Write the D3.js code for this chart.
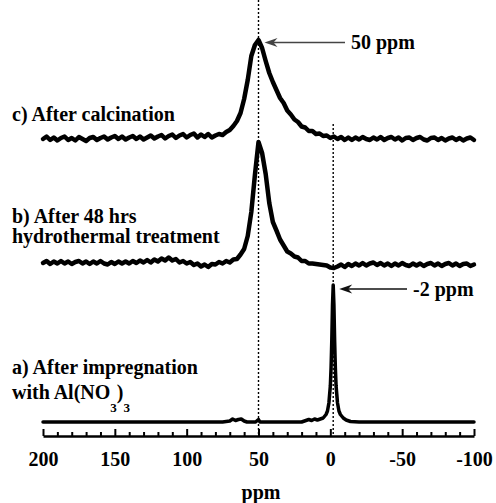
<!DOCTYPE html>
<html><head><meta charset="utf-8">
<script src="https://cdn.jsdelivr.net/npm/d3@7"></script>
<style>
html,body{margin:0;padding:0;background:#fff;}
svg{display:block;}
text{font-family:"Liberation Serif","Times New Roman",serif;font-weight:bold;fill:#000;}
</style></head>
<body>
<script>
// Chemical shift grid (ppm) for traces b and c
const ppm = [200,197.5,195,192.5,190,187.5,185,182.5,180,177.5,175,172.5,170,167.5,165,162.5,160,157.5,155,152.5,
150,147.5,145,142.5,140,137.5,135,132.5,130,127.5,125,122.5,120,117.5,115,112.5,110,107.5,105,102.5,
100,97.5,95,92.5,90,87.5,85,82.5,80,77.5,75,72.5,70,67.5,65,62.5,60,57.5,55,52.5,
50,47.5,45,42.5,40,37.5,35,32.5,30,27.5,25,22.5,20,17.5,15,12.5,10,7.5,5,2.5,
0,-2.5,-5,-7.5,-10,-12.5,-15,-17.5,-20,-22.5,-25,-27.5,-30,-32.5,-35,-37.5,-40,-42.5,-45,-47.5,
-50,-52.5,-55,-57.5,-60,-62.5,-65,-67.5,-70,-72.5,-75,-77.5,-80,-82.5,-85,-87.5,-90,-92.5,-95,-97.5,-100];

// c) After calcination
const calcination = [0,2.5,-1,1.5,-1.5,1,2.5,-1,1,-1.5,2,0,-2,1,2,-1,1,2.5,-0.5,1.5,
3,0,2.5,-0.5,1.5,3,0,2.5,-0.5,1.5,3.5,0.5,2.5,4,0.5,3,4.5,1,3.5,5,
1.5,4,5.5,1.5,4.5,2,5,1.5,
3.5,5,4,7,9,13,18,26,40,59,83,94,99,91,78,66,57,49,41,36,
28.5,24.5,19.5,17,12.5,11.5,8,8,5,5.5,3,3.5,1,2.5,
0,2,-1,1.5,-1,1.5,-0.5,2,0,-1,1.5,-0.5,2,-1,1,2,-0.5,1.5,-1.5,1,
1.5,-1,1,2,-0.5,-1.5,1,1.5,-1,1,-1.5,0.5,1.5,-1,1,-1.5,0.5,1.5,-1];

// b) After 48 hrs hydrothermal treatment
const hydrothermal = [2,4,1,3.5,1.5,4,1.5,3.5,1,3,4,1.5,3.5,1,3.5,1.5,4,1.5,0.5,3,
1,3.5,1.5,3.5,1.5,4,2,4.5,2.5,5,2.5,5.5,3.5,6.5,4.5,7.5,4.5,6,2.5,4,
1.5,3,0,1.5,-1.5,0.5,-2,1,
0.5,3,1.5,4,2.5,5.5,6,10.5,16,29,53,90,123,112,91,62,43,34.5,25.5,19.5,
13.5,11.5,8.5,7.5,4,4,1.5,1.5,1,0.5,0,-0.5,-2.5,-3,
-1.5,0.5,-2,1,-1,1.5,-0.5,2,-0.5,1.5,2.5,0,2,-0.5,1.5,-1,1.5,-0.5,2,0,
-1,1.5,-0.5,1.5,-1,1,2,-0.5,1.5,-1,1,2,-0.5,1.5,-1,1,1.5,-1,0.5];

// a) After impregnation with Al(NO3)3
const ppmA = [200,150,100,75,70,68,66,64,62,60,58,52,50,49,40,20,17,15,13,11,9,7,5,3,2,1,0,
-0.5,-1,-1.5,-2,-2.5,-3,-3.5,-4,-5,-6,-7,-9,-11,-14,-20,-50,-100];
const impregnation = [0,0,0,0,1,3,1.5,2.5,3,1,0,0,2.5,0,0,0,1.5,2.5,1.5,3,2,3,4,7.5,11,19,36,
54,81,117,137,117,81,54,36,19,11,7.5,4,2,0.5,0,0,0];

const majorTicks = [200,150,100,50,0,-50,-100];
const minorTicks = [190,180,170,160,140,130,120,110,90,80,70,60,40,30,20,10,-10,-20,-30,-40,-60,-70,-80,-90];
const markerLines = [50,-2];

const W = 496, H = 503;
const svg = d3.select("body").append("svg").attr("width", W).attr("height", H);

const x = d3.scaleLinear().domain([200,-100]).range([43,474]);
const y = d3.scaleLinear().domain([0,422]).range([422,0]);
const axisY = 436;

// dotted reference lines
svg.append("line").attr("x1", x(markerLines[0])).attr("x2", x(markerLines[0]))
  .attr("y1", 0).attr("y2", axisY)
  .attr("stroke","#000").attr("stroke-width",1.4).attr("stroke-dasharray","2,2");
svg.append("line").attr("x1", x(markerLines[1])).attr("x2", x(markerLines[1]))
  .attr("y1", 124).attr("y2", axisY)
  .attr("stroke","#000").attr("stroke-width",1.4).attr("stroke-dasharray","2,2");

// traces
const offsets = {a:0, b:157, c:283};
function trace(xs, vals, off, sw){
  const line = d3.line().x((d,i)=>x(xs[i])).y(d=>y(d+off));
  svg.append("path").datum(vals).attr("d", line)
    .attr("fill","none").attr("stroke","#000").attr("stroke-width",sw)
    .attr("stroke-linejoin","round").attr("stroke-linecap","round");
}
trace(ppm, calcination, offsets.c, 4.5);
trace(ppm, hydrothermal, offsets.b, 4.5);
trace(ppmA, impregnation, offsets.a, 3.5);

// axis
const gMaj = svg.append("g").attr("transform",`translate(0,${axisY})`)
  .call(d3.axisBottom(x).tickValues(majorTicks).tickSize(-7).tickSizeOuter(0).tickPadding(16)
    .tickFormat(d=>String(d)));
gMaj.select(".domain").attr("stroke","#000").attr("stroke-width",2.5);
gMaj.selectAll(".tick line").attr("stroke","#000").attr("stroke-width",2);
gMaj.selectAll(".tick text").attr("font-size",20).attr("font-family",'"Liberation Serif","Times New Roman",serif')
  .attr("font-weight","bold").attr("fill","#000");
const gMin = svg.append("g").attr("transform",`translate(0,${axisY})`)
  .call(d3.axisBottom(x).tickValues(minorTicks).tickSize(-4).tickSizeOuter(0).tickFormat(""));
gMin.select(".domain").remove();
gMin.selectAll(".tick line").attr("stroke","#000").attr("stroke-width",2);

svg.append("text").attr("x",261).attr("y",499).attr("text-anchor","middle")
  .attr("font-size",20).text("ppm");

// labels
svg.append("text").attr("x",12).attr("y",121).attr("font-size",20).text("c) After calcination");
svg.append("text").attr("x",12).attr("y",223).attr("font-size",20).text("b) After 48 hrs");
svg.append("text").attr("x",12).attr("y",243).attr("font-size",20).text("hydrothermal treatment");
svg.append("text").attr("x",12).attr("y",374).attr("font-size",20).text("a) After impregnation");
const t = svg.append("text").attr("x",12).attr("y",399).attr("font-size",20);
t.append("tspan").text("with Al(NO");
t.append("tspan").attr("dy",13).attr("font-size",13).text("3");
t.append("tspan").attr("dy",-13).attr("font-size",20).text(")");
t.append("tspan").attr("dy",13).attr("font-size",13).text("3");

// annotations with arrows
function arrow(x1, x2, yy, color){
  svg.append("line").attr("x1",x1).attr("x2",x2+8).attr("y1",yy).attr("y2",yy)
    .attr("stroke",color).attr("stroke-width",1.6);
  svg.append("path").attr("d",`M${x2},${yy} L${x2+13},${yy-4.5} L${x2+9},${yy} L${x2+13},${yy+4.5} Z`)
    .attr("fill",color);
}
arrow(345, x(50)+6, 42.5, "#444");
svg.append("text").attr("x",351).attr("y",48.5).attr("font-size",20).text("50 ppm");
arrow(407, x(-2)+6, 289, "#111");
svg.append("text").attr("x",413).attr("y",295.5).attr("font-size",20).text("-2 ppm");
</script>
</body></html>
